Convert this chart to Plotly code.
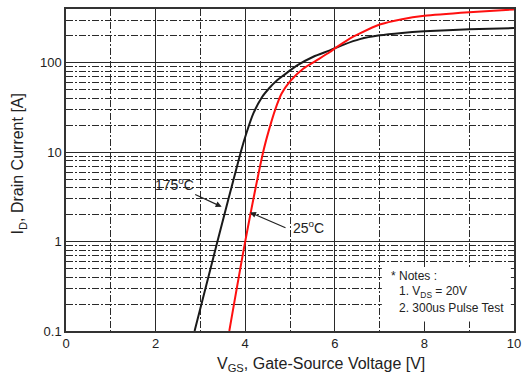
import plotly.graph_objects as go
import math

# 175 degC curve (black)
vgs_175 = [2.87, 3.38, 3.90, 4.03, 4.18, 4.37, 4.55, 4.70, 4.85, 5.15, 5.52, 5.89, 6.20, 6.56, 7.00, 7.50, 8.00, 9.00, 10.00]
id_175 = [0.1, 1.0, 10.0, 16.5, 27.0, 41.0, 53.0, 63.0, 72.0, 93.0, 117.0, 138.0, 160.0, 184.0, 203.0, 216.0, 225.0, 237.0, 245.0]

# 25 degC curve (red)
vgs_25 = [3.645, 4.00, 4.40, 4.52, 4.67, 4.81, 5.00, 5.30, 5.60, 5.89, 6.00, 6.30, 6.56, 7.00, 7.50, 8.00, 9.00, 10.00]
id_25 = [0.1, 1.0, 10.0, 17.0, 30.0, 45.0, 62.0, 86.5, 107.0, 132.0, 145.0, 182.0, 213.0, 268.0, 308.0, 336.0, 368.0, 395.0]

x_ticks = [0, 2, 4, 6, 8, 10]
y_ticks = [0.1, 1, 10, 100]
y_tick_text = ["0.1", "1", "10", "100"]

FONT = "Liberation Sans, Arial, sans-serif"
GRID = "#2a2a2a"

fig = go.Figure()
fig.add_trace(go.Scatter(x=vgs_175, y=id_175, mode="lines", line=dict(color="#1a1a1a", width=2, shape="spline", smoothing=0.7), showlegend=False))
fig.add_trace(go.Scatter(x=vgs_25, y=id_25, mode="lines", line=dict(color="#ff1010", width=2, shape="spline", smoothing=0.7), showlegend=False))

fig.update_layout(
    width=529, height=383,
    margin=dict(l=66, r=15, t=7, b=52),
    paper_bgcolor="white", plot_bgcolor="white",
    font=dict(family=FONT, color="#222"),
    xaxis=dict(range=[0, 10], tickvals=x_ticks, ticktext=[str(v) for v in x_ticks],
               showgrid=True, gridcolor=GRID, gridwidth=1,
               minor=dict(dtick=1, showgrid=True, gridcolor=GRID, gridwidth=1, griddash="7px,2px,2px,2px"),
               showline=True, linecolor="#333", linewidth=1.5, mirror=True,
               ticks="", tickfont=dict(size=13, family=FONT, color="#222"), zeroline=False),
    yaxis=dict(type="log", range=[-1, math.log10(400)], tickvals=y_ticks, ticktext=y_tick_text,
               showgrid=True, gridcolor=GRID, gridwidth=1,
               minor=dict(dtick="D1", showgrid=True, gridcolor=GRID, gridwidth=1, griddash="7px,2px,2px,2px"),
               showline=True, linecolor="#333", linewidth=1.5, mirror=True,
               ticks="", tickfont=dict(size=13, family=FONT, color="#222"), zeroline=False),
)

# white box behind notes
fig.add_shape(type="rect", xref="x", yref="y", x0=7.05, x1=9.93, y0=0.128, y1=0.52,
              fillcolor="white", line=dict(width=0), layer="between")

anns = [
    dict(x=0.57, y=-0.105, xref="paper", yref="paper", text="V<sub>GS</sub>, Gate-Source Voltage [V]",
         showarrow=False, font=dict(size=16, family=FONT, color="#222"), xanchor="center", yanchor="middle"),
    dict(x=-0.105, y=0.52, xref="paper", yref="paper", text="I<sub>D</sub>, Drain Current [A]", textangle=-90,
         showarrow=False, font=dict(size=16, family=FONT, color="#222"), xanchor="center", yanchor="middle"),
    dict(x=2.43, y=math.log10(4.41), xref="x", yref="y", text="175<sup>o</sup>C", showarrow=False,
         font=dict(size=14, family=FONT, color="#222")),
    dict(x=5.42, y=math.log10(1.47), xref="x", yref="y", text="25<sup>o</sup>C", showarrow=False,
         font=dict(size=14, family=FONT, color="#222")),
    dict(x=3.475, y=math.log10(2.45), xref="x", yref="y", text="", showarrow=True, ax=-28, ay=-13,
         arrowhead=2, arrowsize=1, arrowwidth=1.2, arrowcolor="#222", standoff=0),
    dict(x=4.107, y=math.log10(2.12), xref="x", yref="y", text="", showarrow=True, ax=37, ay=16,
         arrowhead=2, arrowsize=1, arrowwidth=1.2, arrowcolor="#222", standoff=0),
    dict(x=(389 - 66) / 448, y=(331 - 276) / 324, xref="paper", yref="paper", text="* Notes :",
         showarrow=False, xanchor="left", yanchor="middle", font=dict(size=12, family=FONT, color="#222")),
    dict(x=(397 - 66) / 448, y=(331 - 292) / 324, xref="paper", yref="paper", text="1. V<sub>DS</sub> = 20V",
         showarrow=False, xanchor="left", yanchor="middle", font=dict(size=12, family=FONT, color="#222")),
    dict(x=(397 - 66) / 448, y=(331 - 308) / 324, xref="paper", yref="paper", text="2. 300us Pulse Test",
         showarrow=False, xanchor="left", yanchor="middle", font=dict(size=12, family=FONT, color="#222")),
]
fig.update_layout(annotations=anns)

fig.write_html("out.html", config={"displayModeBar": False},
               post_script="document.body.style.margin='0';document.body.style.overflow='hidden';")
